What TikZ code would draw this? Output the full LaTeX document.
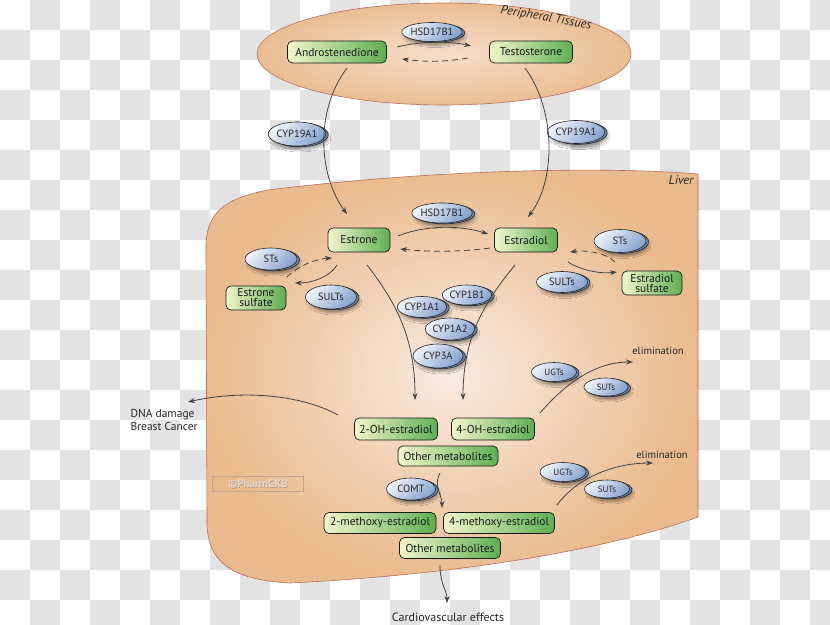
\documentclass[tikz,border=0pt]{standalone}
\usepackage{fontspec}
\setmainfont{PT Sans}
\usetikzlibrary{shapes.geometric,shadows,shadows.blur,arrows.meta}
\definecolor{checker}{HTML}{E3E3E3}
\definecolor{pin}{HTML}{F6DDC9}
\definecolor{pout}{HTML}{EABE94}
\definecolor{lin}{HTML}{F9EAE0}
\definecolor{lout}{HTML}{EABB8E}
\definecolor{bord}{HTML}{B8705E}
\definecolor{mlight}{HTML}{F1F6CB}
\definecolor{mdark}{HTML}{5EAE53}
\definecolor{elight}{HTML}{EEF3FA}
\definecolor{edark}{HTML}{86A3CD}
\definecolor{eback}{HTML}{6E82A6}
\definecolor{arrc}{HTML}{444444}
\definecolor{wmt}{HTML}{E4DAD2}
\definecolor{wmd}{HTML}{B49C8A}
\definecolor{wmb}{HTML}{C2A892}
\tikzset{
  metab/.style={draw=black!90, line width=0.7pt, rounded corners=5pt, left color=mlight, right color=mdark,
    font=\fontsize{11.5}{11}\selectfont, inner sep=0pt, minimum height=22pt, text=black!90, align=center},
  enz/.style={ellipse, draw=black!85, line width=0.6pt, inner sep=0pt,
    blur shadow={shadow xshift=3pt, shadow yshift=-4pt, shadow blur steps=6, shadow opacity=35},
    copy shadow={shadow xshift=2.5pt, shadow yshift=-0.8pt, fill=eback, draw=black!85, line width=0.6pt},
    top color=elight, bottom color=edark, shading angle=45,
    font=\fontsize{10.5}{11}\selectfont, text=black!85},
  senz/.style={enz, font=\fontsize{9}{10}\selectfont},
  arr/.style={draw=arrc, line width=0.8pt, -{Stealth[length=7pt,width=5pt]}},
  darr/.style={arr, dash pattern=on 6pt off 4pt},
  plain/.style={font=\fontsize{11.5}{13}\selectfont, text=black!85},
}
\begin{document}
\begin{tikzpicture}[x=1pt,y=-1pt]
\useasboundingbox (0,0) rectangle (830,624);
\fill[white] (0,0) rectangle (830,624);
\foreach \i in {0,...,27}{\foreach \j in {0,...,20}{%
  \pgfmathtruncatemacro\s{mod(\i+\j,2)}%
  \ifnum\s=1 \fill[checker] (\i*30,\j*30) rectangle ++(30,30);\fi}}
% peripheral tissues
\path[draw=bord, line width=0.6pt, inner color=pin, outer color=pout] (444,54) ellipse [x radius=187, y radius=51];
\node[rotate=-10, font=\itshape\fontsize{12.5}{13}\selectfont, text=black!85] (pt) at (546,18) {Peripheral Tissues};
% liver
\path[draw=bord, line width=0.6pt, inner color=lin, outer color=lout]
  (206,250) .. controls (205,210) and (228,198) .. (268,190)
  .. controls (430,170) and (600,166) .. (698,174) -- (698,517)
  .. controls (600,552) and (450,575) .. (290,583)
  .. controls (232,580) and (207,562) .. (207,522) -- cycle;
\node[font=\itshape\fontsize{12.5}{13}\selectfont, text=black!85] (liver) at (681,180) {Liver};
% watermark
\node[draw=wmb, line width=0.6pt, minimum width=91pt, minimum height=15pt, inner sep=0pt] (pgkb) at (258,484) {};
\node[font=\bfseries\fontsize{11}{11}\selectfont, text=wmd] at ([shift={(0.6,0.6)}]pgkb.center) {©PharmGKB};
\node[font=\bfseries\fontsize{11}{11}\selectfont, text=wmt] at (pgkb.center) {©PharmGKB};
% metabolites
\node[metab, minimum width=99pt] (andro) at (337,52) {Androstenedione};
\node[metab, minimum width=83pt] (testo) at (531,52) {Testosterone};
\node[metab, minimum width=62pt, minimum height=24pt] (estrone) at (359,240) {Estrone};
\node[metab, minimum width=63pt, minimum height=24pt] (estradiol) at (526,240) {Estradiol};
\node[metab, minimum width=60pt, minimum height=24pt, font=\fontsize{11.5}{10}\selectfont] (esulf) at (256,298) {Estrone\\sulfate};
\node[metab, minimum width=60pt, minimum height=24pt, font=\fontsize{11.5}{10}\selectfont] (e2sulf) at (652,283) {Estradiol\\sulfate};
\node[metab, minimum width=83pt] (oh2) at (396,429) {2-OH-estradiol};
\node[metab, minimum width=83pt] (oh4) at (493,429) {4-OH-estradiol};
\node[metab, minimum width=100pt, minimum height=20pt] (other1) at (448,456) {Other metabolites};
\node[metab, minimum width=112pt, minimum height=21pt] (meo2) at (380,523) {2-methoxy-estradiol};
\node[metab, minimum width=111pt, minimum height=21pt] (meo4) at (499,523) {4-methoxy-estradiol};
\node[metab, minimum width=101pt, minimum height=21pt] (other2) at (450,548) {Other metabolites};
% enzymes
\node[enz, minimum width=49pt, minimum height=19pt] (hsdP) at (432,32) {HSD17B1};
\node[enz, minimum width=48pt, minimum height=24pt] (cypL) at (297,134) {CYP19A1};
\node[enz, minimum width=47pt, minimum height=23pt] (cypR) at (576,132) {CYP19A1};
\node[enz, minimum width=50pt, minimum height=20pt] (hsdL) at (442,213) {HSD17B1};
\node[enz, minimum width=52pt, minimum height=22pt] (stsL) at (271,259) {STs};
\node[enz, minimum width=51pt, minimum height=24pt] (sultsL) at (331,297) {SULTs};
\node[enz, minimum width=52pt, minimum height=23pt] (stsR) at (620,241) {STs};
\node[enz, minimum width=51pt, minimum height=21pt] (sultsR) at (562,282) {SULTs};
\node[enz, minimum width=48pt, minimum height=20pt] (cyp1b1) at (467,295) {CYP1B1};
\node[enz, minimum width=49pt, minimum height=21pt] (cyp1a1) at (422,307) {CYP1A1};
\node[enz, minimum width=49pt, minimum height=22pt] (cyp1a2) at (450,329) {CYP1A2};
\node[enz, minimum width=50pt, minimum height=24pt] (cyp3a) at (438,356) {CYP3A};
\node[senz, minimum width=45pt, minimum height=19pt] (ugts1) at (554,372) {UGTs};
\node[senz, minimum width=44pt, minimum height=18pt] (suts1) at (606,387) {SUTs};
\node[enz, minimum width=49pt, minimum height=22pt] (comt) at (411,489) {COMT};
\node[senz, minimum width=46pt, minimum height=19pt] (ugts2) at (563,472) {UGTs};
\node[senz, minimum width=45pt, minimum height=18pt] (suts2) at (607,489) {SUTs};
% texts
\node[plain, font=\fontsize{10.5}{11}\selectfont] (elim1) at (658,351) {elimination};
\node[plain, font=\fontsize{10.5}{11}\selectfont] (elim2) at (662,455) {elimination};
\node[plain, anchor=west, align=left] (dna) at (127,420) {DNA damage\\Breast Cancer};
\node[plain, font=\fontsize{12}{12}\selectfont] (cardio) at (448,617) {Cardiovascular effects};
\coordinate (elimA) at (633,362);
\coordinate (elimB) at (653,463);
\coordinate (dnaEnd) at (188,402);
% arrows
\draw[arr] ([shift={(60,-5)}]andro.center) .. controls (420,41) and (450,41) .. ([shift={(-60,-6)}]testo.center);
\draw[darr] ([shift={(-63,6)}]testo.center) .. controls (445,62) and (425,62) .. ([shift={(65,7)}]andro.center);
\draw[arr] ([shift={(10,16)}]andro.center) .. controls (315,110) and (318,175) .. ([shift={(-12,-26)}]estrone.center);
\draw[arr] ([shift={(-6,16)}]testo.center) .. controls (556,110) and (556,180) .. ([shift={(2,-23)}]estradiol.center);
\draw[arr] ([shift={(39,-4)}]estrone.center) .. controls (425,225) and (460,225) .. ([shift={(-38,-6)}]estradiol.center);
\draw[darr] ([shift={(-36,8)}]estradiol.center) .. controls (460,252) and (430,252) .. ([shift={(41,9)}]estrone.center);
\draw[darr] ([shift={(16,18)}]stsL.center) .. controls (298,266) and (315,259) .. ([shift={(-27,18)}]estrone.center);
\draw[arr] ([shift={(-22,25)}]estrone.center) .. controls (330,277) and (312,283) .. ([shift={(39,-15)}]esulf.center);
\draw[darr] ([shift={(-37,-21)}]e2sulf.center) .. controls (605,252) and (585,250) .. ([shift={(44,12)}]estradiol.center);
\draw[arr] ([shift={(42,22)}]estradiol.center) .. controls (580,270) and (600,274) .. ([shift={(-35,-11)}]e2sulf.center);
\draw[arr] ([shift={(8,25)}]estrone.center) .. controls (398,305) and (415,340) .. ([shift={(19,-29)}]oh2.center);
\draw[arr] ([shift={(-11,25)}]estradiol.center) .. controls (482,305) and (463,340) .. ([shift={(-30,-29)}]oh4.center);
\draw[arr] ([shift={(47,-16)}]oh4.center) .. controls (570,378) and (600,362) .. (elimA);
\draw[arr] ([shift={(-58,-14)}]oh2.center) .. controls (300,394) and (240,390) .. (dnaEnd);
\draw[arr] ([shift={(-8,17)}]other1.center) .. controls (433,485) and (442,495) .. ([shift={(-57,-15)}]meo4.center);
\draw[arr] ([shift={(58,-18)}]meo4.center) .. controls (580,474) and (620,463) .. (elimB);
\draw[arr] ([shift={(-10,17)}]other2.center) .. controls (440,585) and (447,590) .. ([shift={(-1,-14)}]cardio.center);
\end{tikzpicture}
\end{document}
